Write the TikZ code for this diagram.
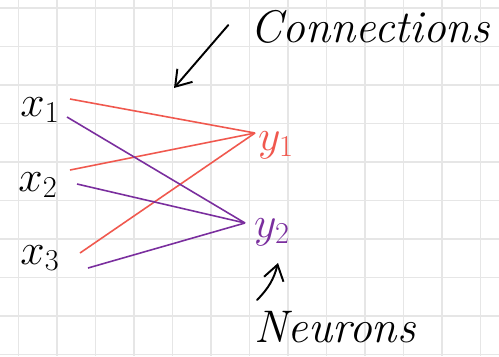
\documentclass[tikz,border=0pt]{standalone}
\usetikzlibrary{arrows.meta, positioning}
\definecolor{linkred}{HTML}{F0584E}
\definecolor{linkpurple}{HTML}{7A2E9E}
\definecolor{gridgray}{HTML}{E6E6E6}

\begin{document}
\begin{tikzpicture}[
  x=0.02cm, y=-0.02cm,
  var/.style={inner sep=0pt, font=\fontsize{27}{30}\selectfont},
  note/.style={inner sep=0pt, font=\fontsize{26}{30}\selectfont\itshape},
  link/.style={line width=0.9pt},
  pointer/.style={-{Straight Barb[length=3mm, width=4mm]}, line width=1.1pt, line cap=round}
]
\useasboundingbox (0,0) rectangle (499,356);
\fill[white] (0,0) rectangle (499,356);
% squared paper
\foreach \i in {0,...,12}
  \draw[gridgray, line width=0.8pt] (18.5+38.5*\i,0) -- (18.5+38.5*\i,356);
\foreach \j in {0,...,9}
  \draw[gridgray, line width=0.8pt] (0,8+38.5*\j) -- (499,8+38.5*\j);

\node[var] (x1) at (40,110) {$x_1$};
\node[var] (x2) at (38,185) {$x_2$};
\node[var] (x3) at (40,258) {$x_3$};
\node[var, text=linkred] (y1) at (276,145) {$y_1$};
\node[var, text=linkpurple] (y2) at (272,232) {$y_2$};
\node[note] (conn) at (370,27) {Connections};
\node[note] (neur) at (335,327) {Neurons};
\coordinate (connTip) at (174,88);

% connections to y1
\draw[link, linkred] ([shift={(30,-11)}]x1.center) -- ([shift={(-21,-12)}]y1.center);
\draw[link, linkred] ([shift={(32,-15)}]x2.center) -- ([shift={(-21,-12)}]y1.center);
\draw[link, linkred] ([shift={(40,-5)}]x3.center) -- ([shift={(-21,-12)}]y1.center);
% connections to y2
\draw[link, linkpurple] ([shift={(27,7)}]x1.center) -- ([shift={(-27,-9)}]y2.center);
\draw[link, linkpurple] ([shift={(39,-1)}]x2.center) -- ([shift={(-27,-9)}]y2.center);
\draw[link, linkpurple] ([shift={(48,10)}]x3.center) -- ([shift={(-27,-9)}]y2.center);

% pointers
\draw[pointer] ([shift={(-22,-2)}]conn.west) -- (connTip);
\draw[pointer] ([shift={(-78,-27)}]neur.center) to[bend right=15] ([shift={(6,31)}]y2.center);
\end{tikzpicture}
\end{document}
